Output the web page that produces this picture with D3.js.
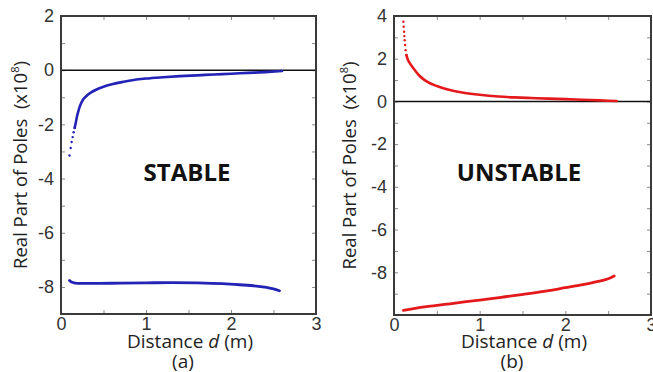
<!DOCTYPE html>
<html>
<head>
<meta charset="utf-8">
<script src="https://cdn.jsdelivr.net/npm/d3@7"></script>
<style>
  html, body { margin: 0; padding: 0; background: #fff; }
  svg { display: block; }
</style>
</head>
<body>
<script>
// ---- (a) stable: real part of the two poles vs. distance d (units of 1e8) ----
const stableUpperD  = [0.10, 0.114, 0.125, 0.137, 0.149, 0.161, 0.175, 0.19, 0.21, 0.23, 0.26, 0.30, 0.35, 0.40, 0.50, 0.60, 0.70, 0.80, 1.00, 1.20, 1.40, 1.60, 1.80, 2.00, 2.20, 2.40, 2.60];
const stableUpperRe = [-3.15, -2.87, -2.65, -2.47, -2.29, -2.13, -1.92, -1.68, -1.45, -1.27, -1.08, -0.95, -0.83, -0.74, -0.61, -0.52, -0.45, -0.39, -0.31, -0.26, -0.22, -0.19, -0.16, -0.13, -0.10, -0.07, -0.03];
const stableLowerD  = [0.10, 0.13, 0.20, 0.40, 0.70, 1.00, 1.30, 1.60, 1.90, 2.10, 2.30, 2.42, 2.50, 2.57];
const stableLowerRe = [-7.76, -7.83, -7.87, -7.87, -7.86, -7.85, -7.84, -7.85, -7.88, -7.92, -7.97, -8.02, -8.07, -8.14];

// ---- (b) unstable ----
const unstableUpperD  = [0.110, 0.113, 0.117, 0.121, 0.125, 0.130, 0.136, 0.145, 0.16, 0.19, 0.226, 0.26, 0.30, 0.35, 0.42, 0.50, 0.616, 0.70, 0.81, 1.00, 1.22, 1.40, 1.60, 1.80, 2.00, 2.20, 2.40, 2.60];
const unstableUpperRe = [3.73, 3.50, 3.26, 3.06, 2.87, 2.64, 2.40, 2.17, 1.97, 1.76, 1.55, 1.38, 1.19, 1.02, 0.85, 0.72, 0.57, 0.49, 0.41, 0.31, 0.23, 0.19, 0.16, 0.13, 0.11, 0.08, 0.05, 0.02];
const unstableLowerD  = [0.11, 0.23, 0.40, 0.62, 0.80, 1.00, 1.25, 1.51, 1.75, 2.00, 2.20, 2.37, 2.50, 2.57];
const unstableLowerRe = [-9.78, -9.70, -9.60, -9.49, -9.40, -9.30, -9.17, -9.03, -8.89, -8.72, -8.58, -8.44, -8.30, -8.17];

// ---- ticks ----
const xTickValues = [0, 0.5, 1, 1.5, 2, 2.5, 3];
const xLabelValues = [0, 1, 2, 3];
const yTickValuesA = [-9, -8, -7, -6, -5, -4, -3, -2, -1, 0, 1, 2];
const yLabelValuesA = [-8, -6, -4, -2, 0, 2];
const yTickValuesB = [-10, -9, -8, -7, -6, -5, -4, -3, -2, -1, 0, 1, 2, 3, 4];
const yLabelValuesB = [-8, -6, -4, -2, 0, 2, 4];

const W = 653, H = 372;
const svg = d3.select("body").append("svg").attr("width", W).attr("height", H);

const panels = [
  {
    left: 61, right: 316, top: 16, bottom: 314, yDomain: [-9, 2],
    yTicks: yTickValuesA, yLabels: yLabelValuesA,
    color: "#2323b5",
    upper: { d: stableUpperD, re: stableUpperRe, dotsUntil: 5 },
    lower: { d: stableLowerD, re: stableLowerRe },
    word: "STABLE", wordX: 187, caption: "(a)", captionX: 183, titleX: 27
  },
  {
    left: 394, right: 651, top: 16, bottom: 315, yDomain: [-10, 4],
    yTicks: yTickValuesB, yLabels: yLabelValuesB,
    color: "#e3191c",
    upper: { d: unstableUpperD, re: unstableUpperRe, dotsUntil: 7 },
    lower: { d: unstableLowerD, re: unstableLowerRe },
    word: "UNSTABLE", wordX: 519, caption: "(b)", captionX: 512, titleX: 356
  }
];

const tickFont = "'Liberation Sans', Arial, sans-serif";
const textFont = "'Open Sans', 'Noto Sans', sans-serif";

panels.forEach(p => {
  const x = d3.scaleLinear().domain([0, 3]).range([p.left, p.right]);
  const y = d3.scaleLinear().domain(p.yDomain).range([p.bottom, p.top]);
  const g = svg.append("g");

  const fmtX = v => xLabelValues.includes(v) ? String(v) : "";
  const fmtY = v => p.yLabels.includes(v) ? String(v) : "";

  // axes with inward ticks on all four sides
  const styleAxis = sel => {
    sel.select(".domain").remove();
    sel.selectAll(".tick line").attr("stroke", "#8a8a8a").attr("stroke-width", 1);
    sel.selectAll(".tick text").attr("fill", "#333").attr("font-family", tickFont).attr("font-size", 18);
  };
  g.append("g").attr("transform", `translate(0,${p.bottom})`)
    .call(d3.axisBottom(x).tickValues(xTickValues).tickFormat(fmtX).tickSize(-4).tickPadding(3))
    .call(styleAxis);
  g.append("g").attr("transform", `translate(0,${p.top})`)
    .call(d3.axisTop(x).tickValues(xTickValues).tickFormat("").tickSize(-4))
    .call(styleAxis);
  g.append("g").attr("transform", `translate(${p.left},0)`)
    .call(d3.axisLeft(y).tickValues(p.yTicks).tickFormat(fmtY).tickSize(-4).tickPadding(7))
    .call(styleAxis);
  g.append("g").attr("transform", `translate(${p.right},0)`)
    .call(d3.axisRight(y).tickValues(p.yTicks).tickFormat("").tickSize(-4))
    .call(styleAxis);

  // zero line
  g.append("line")
    .attr("x1", x(0)).attr("x2", x(3))
    .attr("y1", y(0)).attr("y2", y(0))
    .attr("stroke", "#111").attr("stroke-width", 1.6);

  // pole branches
  const line = d3.line().x(d => x(d[0])).y(d => y(d[1])).curve(d3.curveMonotoneX);
  const up = p.upper.d.map((d, i) => [d, p.upper.re[i]]);
  const lo = p.lower.d.map((d, i) => [d, p.lower.re[i]]);

  g.append("path").datum(up.slice(p.upper.dotsUntil))
    .attr("d", line).attr("fill", "none")
    .attr("stroke", p.color).attr("stroke-width", 2.6).attr("stroke-linecap", "round");
  g.selectAll("circle.pt").data(up.slice(0, p.upper.dotsUntil + 1)).join("circle")
    .attr("class", "pt")
    .attr("cx", d => x(d[0])).attr("cy", d => y(d[1])).attr("r", 1.2)
    .attr("fill", p.color);
  g.append("path").datum(lo)
    .attr("d", line).attr("fill", "none")
    .attr("stroke", p.color).attr("stroke-width", 2.8).attr("stroke-linecap", "round");

  // frame
  g.append("rect")
    .attr("x", p.left).attr("y", p.top)
    .attr("width", p.right - p.left).attr("height", p.bottom - p.top)
    .attr("fill", "none").attr("stroke", "#3a3a3a").attr("stroke-width", 2);

  // region label
  g.append("text")
    .attr("x", p.wordX).attr("y", 181)
    .attr("text-anchor", "middle")
    .attr("font-family", textFont).attr("font-weight", 700).attr("font-size", 24)
    .attr("fill", "#111")
    .text(p.word);

  // x title
  const xt = g.append("text")
    .attr("x", (p.left + p.right) / 2 + 1.5).attr("y", 348)
    .attr("text-anchor", "middle")
    .attr("font-family", textFont).attr("font-size", 19).attr("fill", "#222");
  xt.append("tspan").text("Distance ");
  xt.append("tspan").attr("font-style", "italic").text("d");
  xt.append("tspan").text(" (m)");

  // caption
  g.append("text")
    .attr("x", p.captionX).attr("y", 368)
    .attr("text-anchor", "middle")
    .attr("font-family", textFont).attr("font-size", 19).attr("fill", "#222")
    .text(p.caption);

  // y title
  const yt = g.append("text")
    .attr("transform", `translate(${p.titleX},${(p.top + p.bottom) / 2}) rotate(-90)`)
    .attr("text-anchor", "middle")
    .attr("font-family", textFont).attr("font-size", 18.5).attr("fill", "#222")
    .style("white-space", "pre");
  yt.append("tspan").text("Real Part of Poles  (x10");
  yt.append("tspan").attr("font-size", 11).attr("dy", -8).text("8");
  yt.append("tspan").attr("dy", 8).text(")");
});
</script>
</body>
</html>
